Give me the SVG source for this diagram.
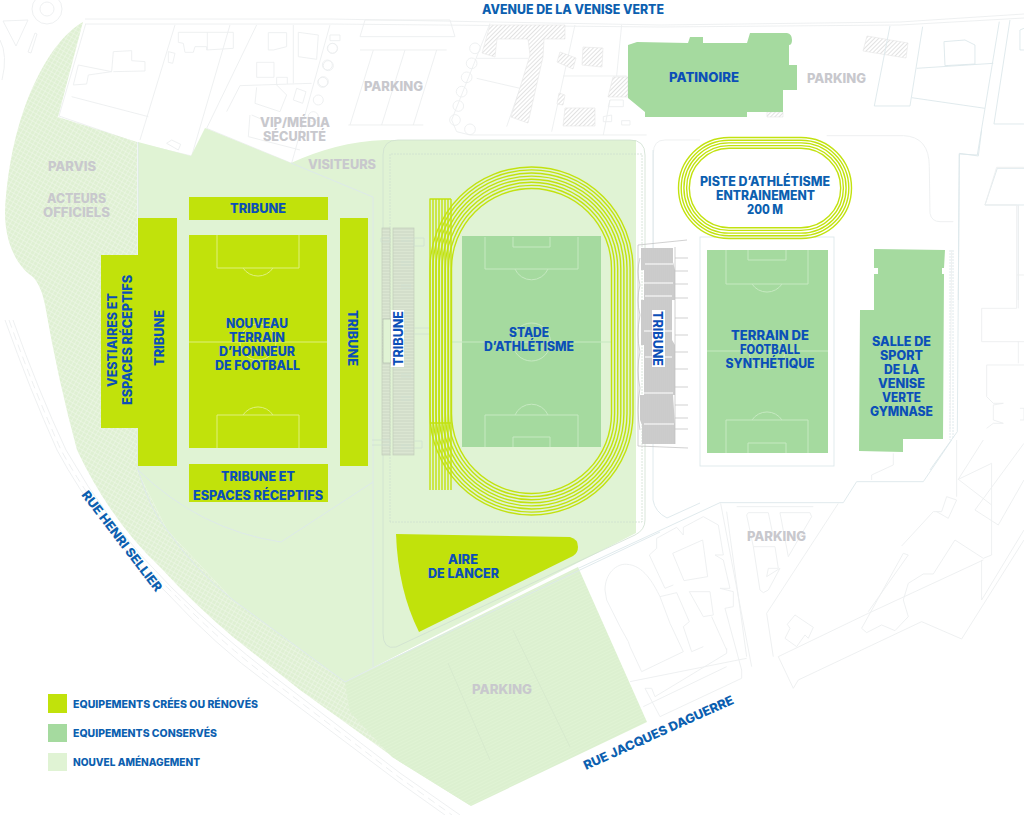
<svg xmlns="http://www.w3.org/2000/svg" width="1024" height="815" viewBox="0 0 1024 815">
<style>
text{font-family:"Inter","Liberation Sans",sans-serif;font-weight:800;text-anchor:middle;fill:#0b4fb8;font-size:12.5px}
.st{fill:#0c5fb0}
.gr{fill:#c8c8cd}
.lg{text-anchor:start;fill:#0c5fb0;font-size:10.5px}
.ln{fill:none;stroke:#eceeef;stroke-width:.9}
.ln3{fill:none;stroke:#eceeef;stroke-width:2.7}
.bl{fill:none;stroke:#dde8eb;stroke-width:.9}
.bl3{fill:none;stroke:#dde8eb;stroke-width:2.7}
.ha{fill:url(#diag);stroke:#e6e6e6;stroke-width:.6}
.ol{fill:none;stroke:#cfdfd1;stroke-width:.8}
.fa{fill:none;stroke:#d4e6cc;stroke-width:.7}
.lime{fill:#c1e20b}
.mid{fill:#a5da9f}
.fl{fill:none;stroke:#dff07f;stroke-width:1}
.fm{fill:none;stroke:#c6e9c1;stroke-width:1}
.tr{fill:none;stroke:#c2e20f;stroke-width:1.4}
.tk{fill:none;stroke:#bdbdbd;stroke-width:.7}
</style>
<defs>
<pattern id="diag" width="3" height="3" patternUnits="userSpaceOnUse" patternTransform="rotate(45)"><rect width="3" height="3" fill="#fff"/><rect width="1" height="3" fill="#e2e2e2"/></pattern>
<pattern id="cross" width="4" height="4" patternUnits="userSpaceOnUse" patternTransform="rotate(30)"><rect width="4" height="4" fill="#dff0d3"/><path d="M0 0H4M0 0V4" stroke="#f1f9ec" stroke-width="1"/></pattern>
<pattern id="rows" width="4" height="3" patternUnits="userSpaceOnUse" patternTransform="rotate(-26)"><rect width="4" height="3" fill="#e0f3d4"/><path d="M0 1H4" stroke="#d4ebc8" stroke-width=".7"/></pattern>
<pattern id="seatL" width="3" height="3" patternUnits="userSpaceOnUse"><rect width="3" height="3" fill="#dbe6d2"/><path d="M0 1H3" stroke="#c8d2c0" stroke-width=".8"/></pattern>
<pattern id="seatR" width="2" height="3" patternUnits="userSpaceOnUse"><rect width="2" height="3" fill="#d6d6d6"/><path d="M1 0V3" stroke="#bcbcbc" stroke-width=".8"/></pattern>
</defs>
<rect id="fond" width="1024" height="815" fill="#fff"/>

<g id="plan-voirie">
<path class="ln" d="M85 19H330L660 25L900 22L1024 14M85 24H330L660 27L900 25L1024 18"/>
<circle class="ln" cx="47" cy="9" r="15"/><circle class="ln" cx="47" cy="9" r="7"/>
<path class="ln" d="M3 21L28 20L16 46ZM35 33L28 52L31 53L37 34ZM0 40Q8 55 2 80"/>
<path class="ln" d="M5 320Q30 390 57 450Q100 530 167 593Q215 645 267 683L400 783L445 815M13 320Q38 390 66 450Q108 525 172 588Q220 635 272 675L400 773L460 815"/>
<path class="ln" stroke-dasharray="8 5" d="M9 320Q34 390 61 450Q104 528 170 590Q218 640 270 679L400 778L452 815"/>
<g transform="scale(.3333)">
<path class="ln3" d="M257 72L177 348L415 430L575 468L690 75M525 75L420 420M770 75L620 385L875 490L990 75M215 290L445 350M220 255L260 252L265 225L335 215L340 155L395 152L395 182L435 185L435 213L340 215M220 255L235 195L335 215M535 97H700V145L620 150V140H585L580 157H555L550 130L535 127ZM622 97V150M505 155L525 160L518 190L505 187ZM500 430L515 420L542 433L535 450ZM805 98H860V140L820 150H805ZM895 97L955 105L950 178L895 170ZM770 187H822V232H770ZM720 257L935 250M880 75V250M720 257L680 335M765 310L770 262M765 310L840 335L860 285L830 255V232H862V252M880 300L890 265L918 275L908 310ZM750 345L745 410L900 450M755 345L790 360"/>
<g class="ln3"><circle cx="997" cy="145" r="15"/><circle cx="985" cy="197" r="15"/><circle cx="968" cy="247" r="15"/><circle cx="955" cy="300" r="15"/><circle cx="940" cy="350" r="15"/></g>
</g>
<g transform="translate(320 0) scale(.3333)">
<path class="ln3" d="M120 150H380M160 150L90 375M255 150L185 375M350 150L280 375M85 375H310M135 60H390L405 110H120ZM510 70L395 360L410 395L450 405H980M470 175H625M470 235L600 265M765 75L695 395M905 75L890 228M730 228H920M850 405L870 300M560 380L600 265M870 300H910V320H865ZM850 350L875 345V365H850ZM905 362H930V375H905Z"/>
<g class="ln3"><circle cx="465" cy="145" r="16"/><circle cx="455" cy="190" r="16"/><circle cx="440" cy="232" r="16"/><circle cx="425" cy="275" r="16"/><circle cx="415" cy="318" r="16"/><circle cx="405" cy="360" r="16"/><circle cx="450" cy="388" r="16"/><circle cx="38" cy="145" r="15"/><circle cx="22" cy="195" r="15"/><circle cx="10" cy="245" r="15"/></g>
<path class="ln3" d="M30 105H60V122H30Z"/>
</g>
<path class="ha" d="M490 25H565V39H544L543 57L528 123L511 117L530 55L528 39H497L495 57L482 53ZM557 62L560 52L576 58L573 69ZM583 47L603 48L602 67L582 65ZM565 108H595V126H563ZM613 77H628V97H608ZM559 93L565 95L563 105L557 104ZM867 36L908 43L906 58L863 51ZM767 112H783V117H767Z"/>
<g transform="translate(640 0) scale(.3333)">
<path class="bl3" d="M750 78L703 318H810L848 80M830 205L1060 190M815 293L1035 325M1078 65L1012 465L958 462L955 900M1110 60L1062 372H1152M912 125L975 120L1005 135V192L915 197ZM1072 505H1152M1072 505L1035 615H1152M1135 615V900M1140 90L1152 85M1140 90V150H1152"/>
<path class="ln3" d="M40 950V460Q40 420 75 420H180M560 407H790Q868 410 868 500L870 640Q875 665 900 665H940"/>
</g>
<path class="bl" d="M653 150V500Q655 512 667 518L700 503"/>
<rect class="bl" x="700" y="237" width="134" height="229"/>
<path class="bl" d="M950 250V440M953 250V438" stroke-dasharray="2 1"/>
<g transform="translate(560 440) scale(.3333)">
<path class="bl3" d="M55 385L480 188H850L890 125H1090L1175 0"/>
<path class="ln3" d="M482 190L575 680M500 215L560 650M530 200H760M560 225L565 218H625L640 290M600 450L580 320H645L655 385H625L620 410L660 385L625 450L610 458ZM660 218H750L755 230L685 350ZM835 190L620 520L640 650M580 320L560 225M135 450C135 400 170 370 200 373C250 375 280 430 300 470L330 550L370 635L245 695L210 620L205 605L180 560L140 480ZM268 345L290 325V295L350 262L370 285V262L430 230L475 255L490 345H465L490 360L510 445H480L520 455V500L495 505L545 690V715L300 830L255 745H275L285 770L500 640V625M338 340L428 300L443 410L372 422ZM268 345L315 445L340 435M300 470L350 458L388 545L370 560L395 635L430 620M388 455H450L460 525L430 530ZM455 530L500 630M210 725L560 655M250 800L500 680M705 525L760 562L745 595L735 585L710 620L675 595L690 565L682 553ZM655 650L925 520L1270 360M655 650L700 745L715 720L1085 545L1205 597L1392 300M905 565L1030 340L1045 345L925 515M905 565L920 578L965 555L1005 572L1045 530L1030 480L1045 430L1090 402H1120L1185 300L1270 355L1295 345V70L1195 118L1270 0M1025 318L1120 215H1145L1160 170L1190 180L1165 235L1130 215M1190 170V0M1245 210L1392 10M1245 210L1315 255L1392 120M1195 118L1295 195M1265 480V360M1265 480L1392 270M935 120V105L1000 75V40"/>
</g>
<g transform="translate(840 130) scale(.3333)">
<path class="ln3" d="M470 112L435 225H530V535H425V635H552M470 112H552M535 225V535M530 435H552M535 635V700M440 705H552M440 705V800L460 820H490L460 825V870L490 880H460L440 895M540 835H552V870H540M335 360L330 900"/>
<path class="bl3" d="M425 0L415 78L358 70L352 905L270 1020"/>
</g>
</g>

<g id="amenagement">
<path id="zone-hachuree" fill="url(#cross)" d="M83 22C50 40 10 110 5 213C5 240 15 265 33 277C40 285 43 295 45 305Q58 380 77 450Q110 520 160 567Q195 605 233 637L300 690L400 762L471 806L400 720L345 682L233 600L167 530L137 470V142L58 117Z"/>
<path id="zone-parking" fill="url(#rows)" d="M578 567L647 722L471 806L392 757L350 712L345 682Z"/>
<path id="zone-claire" fill="#e0f3d4" d="M138 142L191 156L205 128L291 163C320 150 350 141 385 140H636V533L345 682L233 600L167 530L137 470Z"/>
<path class="bl" d="M138 142V470Q150 510 167 530Q195 570 233 600L345 682L373 668L660 532"/>
<path class="bl" d="M138 470Q200 530 281 542L373 482M291 163L373 197V667"/>
<path class="ol" d="M383 633V155Q383 140 398 140H630Q645 140 645 155V520Q645 530 635 535L396 647Q383 650 383 633Z"/>
<path class="ol" stroke-dasharray="2 1" d="M390 522V154H642V522Z"/>
<path class="fa" d="M448 663L490 760M513 630L570 747"/>
</g>

<g id="patinoire">
<path class="mid" d="M628 45L637 42L688 43L690 37H703L703 43H747L750 33H787Q792 34 792 40Q792 45 789 45V65H797V90H783V112H747V117H645V112L628 98Z"/>
<text x="704" y="82" textLength="70" lengthAdjust="spacingAndGlyphs">PATINOIRE</text>
</g>

<g id="piste-entrainement">
<rect class="tr" x="678.500" y="137.500" width="173" height="101" rx="50.500"/>
<rect class="tr" x="681.200" y="140.200" width="167.600" height="95.600" rx="47.800"/>
<rect class="tr" x="683.900" y="142.900" width="162.200" height="90.200" rx="45.100"/>
<rect class="tr" x="686.600" y="145.600" width="156.800" height="84.800" rx="42.400"/>
<rect class="tr" x="689.300" y="148.300" width="151.400" height="79.400" rx="39.700"/>
<text class="st" x="765" y="186" textLength="130" lengthAdjust="spacingAndGlyphs">PISTE D’ATHLÉTISME</text>
<text class="st" x="765.500" y="200" textLength="99" lengthAdjust="spacingAndGlyphs">ENTRAINEMENT</text>
<text class="st" x="765" y="214" textLength="36" lengthAdjust="spacingAndGlyphs">200 M</text>
</g>

<g id="terrain-honneur">
<rect class="lime" x="189" y="235" width="138" height="213"/>
<path class="fl" d="M189 342H327M217 235V268H299V235M217 448V415H299V448M243 268A18 18 0 0 0 273 268M243 415A18 18 0 0 1 273 415"/>
<circle class="fl" cx="258" cy="342" r="18"/>
<text x="257" y="328" textLength="62" lengthAdjust="spacingAndGlyphs">NOUVEAU</text>
<text x="257" y="342" textLength="56" lengthAdjust="spacingAndGlyphs">TERRAIN</text>
<text x="257" y="356" textLength="76" lengthAdjust="spacingAndGlyphs">D’HONNEUR</text>
<text x="257.500" y="370" textLength="85" lengthAdjust="spacingAndGlyphs">DE FOOTBALL</text>
</g>
<g id="tribune-nord">
<rect class="lime" x="189" y="197" width="139" height="23"/>
<text x="258" y="213" textLength="56" lengthAdjust="spacingAndGlyphs">TRIBUNE</text>
</g>
<g id="tribune-ouest">
<path class="lime" d="M138 218H177V466H138V428H101V255H138Z"/>
<text transform="translate(117 340) rotate(-90)" textLength="94" lengthAdjust="spacingAndGlyphs">VESTIAIRES ET</text>
<text transform="translate(132 340) rotate(-90)" textLength="130" lengthAdjust="spacingAndGlyphs">ESPACES RÉCEPTIFS</text>
<text transform="translate(164 338) rotate(-90)" textLength="56" lengthAdjust="spacingAndGlyphs">TRIBUNE</text>
</g>
<g id="tribune-est">
<rect class="lime" x="340" y="218" width="28" height="248"/>
<text transform="translate(348 338) rotate(90)" textLength="56" lengthAdjust="spacingAndGlyphs">TRIBUNE</text>
</g>
<g id="tribune-sud">
<rect class="lime" x="189" y="464" width="139" height="38"/>
<text x="258" y="481" textLength="74" lengthAdjust="spacingAndGlyphs">TRIBUNE ET</text>
<text x="258" y="500" textLength="130" lengthAdjust="spacingAndGlyphs">ESPACES RÉCEPTIFS</text>
</g>

<g id="tribune-stade-gauche">
<rect x="382" y="228" width="8" height="227" fill="url(#seatL)" stroke="#c2cdbb" stroke-width=".7"/>
<rect x="393" y="228" width="21" height="227" fill="url(#seatL)" stroke="#c2cdbb" stroke-width=".7"/>
<path class="ol" d="M381 238H390V242H381ZM414 238H424V246H414ZM401 238H411M401 241H411M401 262H411M401 265H411M401 285H411M401 288H411M414 328H430V334H414M401 374H411M401 377H411M401 397H411M401 400H411M372 440H390V445H372M401 445H411M401 448H411M414 441H422V448H414"/>
<rect x="383" y="319" width="8" height="44" fill="#e0f3d4" stroke="#aab5a8" stroke-width=".6"/>
<rect x="391" y="310" width="13" height="57" fill="#fff"/>
<text transform="translate(403 338.500) rotate(-90)" textLength="55" lengthAdjust="spacingAndGlyphs">TRIBUNE</text>
</g>

<g id="stade">
<rect class="mid" x="462" y="236" width="139" height="211"/>
<path class="fm" d="M451 342H612M485 237V269H578V237M513 237V247H550V237M485 447V415H578V447M513 447V437H550V447M515 269A18 18 0 0 0 548 269M515 415A18 18 0 0 1 548 415"/>
<circle class="fm" cx="531.500" cy="342" r="19"/>
<rect class="tr" x="451.500" y="188.500" width="160" height="305" rx="80"/>
<rect class="tr" x="448.400" y="185.400" width="166.200" height="311.200" rx="83.100"/>
<rect class="tr" x="445.300" y="182.300" width="172.400" height="317.400" rx="86.200"/>
<rect class="tr" x="442.200" y="179.200" width="178.600" height="323.600" rx="89.300"/>
<rect class="tr" x="439.100" y="176.100" width="184.800" height="329.800" rx="92.400"/>
<rect class="tr" x="436" y="173" width="191" height="336" rx="95.500"/>
<rect class="tr" x="432.900" y="169.900" width="197.200" height="342.200" rx="98.600"/>
<rect class="tr" x="430" y="167" width="203" height="348" rx="101.500"/>
<path class="tr" d="M429.500 199H451M429.500 423H451M430 199V490M433 199V490M436 199V490M439 199V490M442 199V490M445 199V490M448 199V490M451 199V490"/>
<text x="529" y="337" textLength="40" lengthAdjust="spacingAndGlyphs">STADE</text>
<text x="529" y="351" textLength="90" lengthAdjust="spacingAndGlyphs">D’ATHLÉTISME</text>
</g>

<g id="aire-de-lancer">
<path class="lime" d="M396 534L570 537Q578 539 578 547Q578 553 573 556L419 632Q398 590 396 534Z"/>
<text x="463" y="564" textLength="30" lengthAdjust="spacingAndGlyphs">AIRE</text>
<text x="463.500" y="578" textLength="71" lengthAdjust="spacingAndGlyphs">DE LANCER</text>
</g>

<g id="tribune-stade-droite">
<path fill="url(#seatR)" d="M641 248H673V262L675 270V300H672V340L675 345V395H673L675 425V444H642V425L640 420V395H644V345H641V300H644V270H641Z"/>
<path d="M645 264H673M644 283H673M645 296H672M644 331H672M645 357H672M644 393H673M644 424H674" fill="none" stroke="#eeeeee" stroke-width="1.6"/>
<path class="tk" d="M638 245L687 240M638 245V446L688 448M675 247V444M675 258H688M675 271H688M675 284H688M675 298H688M675 318H688M675 335H688M675 352H688M675 369H688M675 387H688M675 405H688M675 418H688M675 429H688M640 258Q636 272 640 285Q636 300 640 315Q636 335 640 352Q636 370 640 388Q636 410 640 430"/>
<rect x="652" y="310" width="13" height="57" fill="#fff"/>
<text transform="translate(653 338.500) rotate(90)" textLength="55" lengthAdjust="spacingAndGlyphs">TRIBUNE</text>
</g>

<g id="terrain-synthetique">
<rect class="mid" x="707" y="250" width="121" height="203"/>
<path class="fm" d="M707 351H828M726 250V284H808V250M748 250V260H786V250M726 453V420H808V453M748 453V443H786V453M752 284A18 18 0 0 0 782 284M752 420A18 18 0 0 1 782 420"/>
<circle class="fm" cx="767" cy="351" r="18"/>
<text x="770" y="340" textLength="78" lengthAdjust="spacingAndGlyphs">TERRAIN DE</text>
<text x="770" y="354" textLength="60" lengthAdjust="spacingAndGlyphs">FOOTBALL</text>
<text x="770" y="368" textLength="89" lengthAdjust="spacingAndGlyphs">SYNTHÉTIQUE</text>
</g>

<g id="salle-de-sport">
<path class="mid" d="M874 249L945 250L944 268H942V274H944L943 439H903V452L859 451L860 310H874V274H878V268H874Z"/>
<text x="901.500" y="346" textLength="59" lengthAdjust="spacingAndGlyphs">SALLE DE</text>
<text x="901.500" y="360" textLength="43" lengthAdjust="spacingAndGlyphs">SPORT</text>
<text x="901.500" y="374" textLength="35" lengthAdjust="spacingAndGlyphs">DE LA</text>
<text x="901.500" y="388" textLength="47" lengthAdjust="spacingAndGlyphs">VENISE</text>
<text x="901.500" y="402" textLength="39" lengthAdjust="spacingAndGlyphs">VERTE</text>
<text x="901.500" y="416" textLength="63" lengthAdjust="spacingAndGlyphs">GYMNASE</text>
</g>

<g id="libelles">
<text class="st" x="573" y="14" textLength="182" lengthAdjust="spacingAndGlyphs">AVENUE DE LA VENISE VERTE</text>
<text class="gr" x="393.500" y="91" textLength="59" lengthAdjust="spacingAndGlyphs">PARKING</text>
<text class="gr" x="836.500" y="83" textLength="59" lengthAdjust="spacingAndGlyphs">PARKING</text>
<text class="gr" x="776.500" y="541" textLength="59" lengthAdjust="spacingAndGlyphs">PARKING</text>
<text class="gr" x="502" y="694" textLength="60" lengthAdjust="spacingAndGlyphs">PARKING</text>
<text class="gr" x="295" y="127" textLength="70" lengthAdjust="spacingAndGlyphs">VIP/MÉDIA</text>
<text class="gr" x="294.500" y="141" textLength="63" lengthAdjust="spacingAndGlyphs">SÉCURITÉ</text>
<text class="gr" x="342" y="169" textLength="68" lengthAdjust="spacingAndGlyphs">VISITEURS</text>
<text class="gr" x="72" y="171" textLength="48" lengthAdjust="spacingAndGlyphs">PARVIS</text>
<text class="gr" x="76.500" y="203" textLength="59" lengthAdjust="spacingAndGlyphs">ACTEURS</text>
<text class="gr" x="76.500" y="217" textLength="67" lengthAdjust="spacingAndGlyphs">OFFICIELS</text>
<text class="st" transform="translate(81 495) rotate(52.500)" style="text-anchor:start" textLength="123" lengthAdjust="spacingAndGlyphs">RUE HENRI SELLIER</text>
<text class="st" transform="translate(586 770) rotate(-24.200)" style="text-anchor:start" textLength="163" lengthAdjust="spacingAndGlyphs">RUE JACQUES DAGUERRE</text>
</g>

<g id="legende">
<rect class="lime" x="48" y="694" width="19" height="19"/>
<rect class="mid" x="48" y="724" width="19" height="18"/>
<rect x="48" y="753" width="19" height="18" fill="#e0f3d4"/>
<text class="lg" x="73" y="708" textLength="185" lengthAdjust="spacingAndGlyphs">EQUIPEMENTS CRÉES OU RÉNOVÉS</text>
<text class="lg" x="73" y="737" textLength="144" lengthAdjust="spacingAndGlyphs">EQUIPEMENTS CONSERVÉS</text>
<text class="lg" x="73" y="766" textLength="127" lengthAdjust="spacingAndGlyphs">NOUVEL AMÉNAGEMENT</text>
</g>
</svg>
